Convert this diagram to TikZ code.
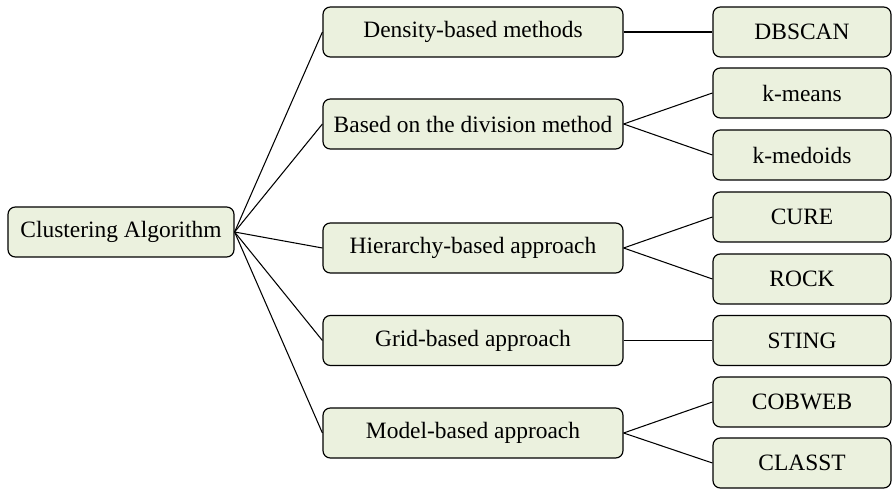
\documentclass[tikz,border=0pt]{standalone}
\usepackage{fontspec}
\setmainfont{Liberation Serif}
\usepackage{tikz}

\definecolor{boxfill}{HTML}{EBF1DE}

\begin{document}
\begin{tikzpicture}[x=0.03cm,y=-0.03cm]
\tikzset{
  box/.style={draw=black, line width=1pt, fill=boxfill, rounded corners=0.22cm,
    minimum height=1.5cm, inner sep=0pt, font=\fontsize{20}{24}\selectfont},
  rootbox/.style={box, minimum width=6.78cm},
  midbox/.style={box, minimum width=9cm},
  leafbox/.style={box, minimum width=5.34cm},
  link/.style={black, line width=0.9pt}
}
\useasboundingbox (0,0) rectangle (892,489);
% root
\node [rootbox] (root) at (121,232) {Clustering Algorithm};
% middle column
\node [midbox] (dens) at (473,32) {Density-based methods};
\node [midbox] (divi) at (473,124) {Based on the division method};
\node [midbox] (hier) at (473,248) {Hierarchy-based approach};
\node [midbox] (grid) at (473,340.5) {Grid-based approach};
\node [midbox] (model) at (473,433) {Model-based approach};
% right column
\node [leafbox] (dbscan) at (802,32) {DBSCAN};
\node [leafbox] (kmeans) at (802,93) {k-means};
\node [leafbox] (kmedo) at (802,155) {k-medoids};
\node [leafbox] (cure) at (802,217) {CURE};
\node [leafbox] (rock) at (802,279) {ROCK};
\node [leafbox] (sting) at (802,340.5) {STING};
\node [leafbox] (cobweb) at (802,402) {COBWEB};
\node [leafbox] (classt) at (802,463) {CLASST};
% links
\foreach \m in {dens,divi,hier,grid,model}
  \draw [link] (root.east) -- (\m.west);
\draw [link] (dens.east) -- (dbscan.west);
\draw [link] (divi.east) -- (kmeans.west);
\draw [link] (divi.east) -- (kmedo.west);
\draw [link] (hier.east) -- (cure.west);
\draw [link] (hier.east) -- (rock.west);
\draw [link] (grid.east) -- (sting.west);
\draw [link] (model.east) -- (cobweb.west);
\draw [link] (model.east) -- (classt.west);
\end{tikzpicture}
\end{document}
